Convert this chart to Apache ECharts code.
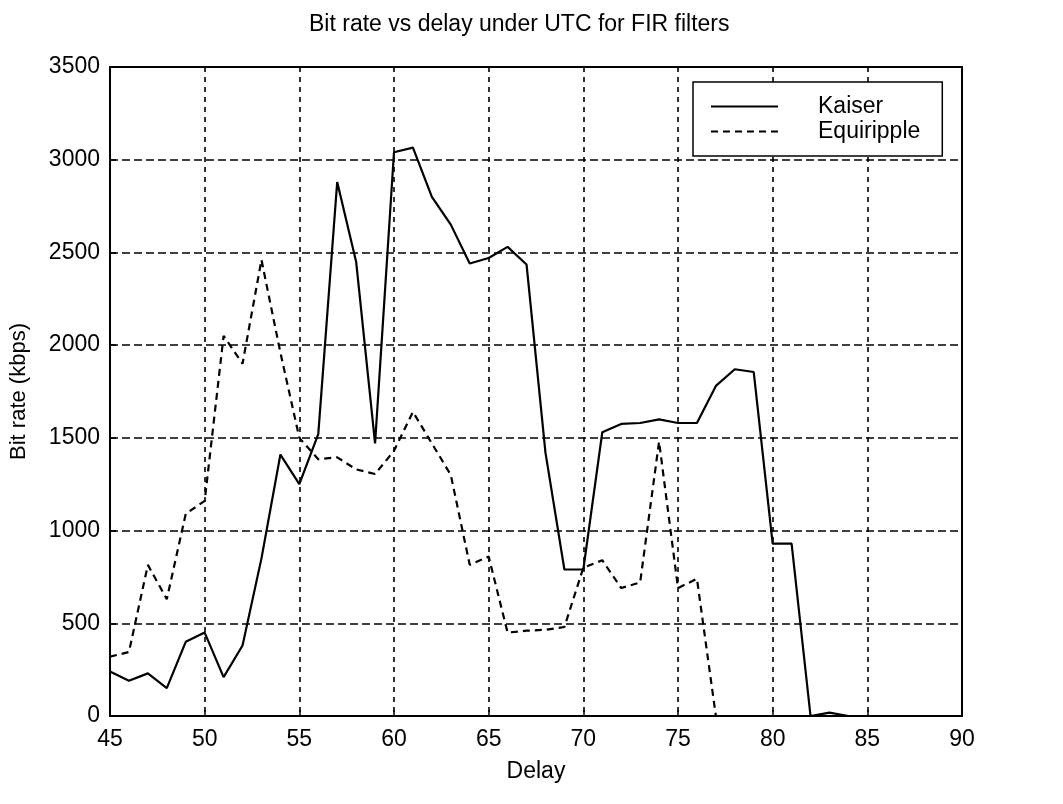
<!DOCTYPE html>
<html>
<head>
<meta charset="utf-8">
<title>Bit rate vs delay under UTC for FIR filters</title>
<script src="https://cdn.jsdelivr.net/npm/echarts@6/dist/echarts.min.js"></script>
<style>
  html, body { margin: 0; padding: 0; background: #fff; }
  #chart { width: 1063px; height: 804px; }
</style>
</head>
<body>
<div id="chart"></div>
<script>
// Delay values (x axis), one point per unit of delay
const delay = [45, 46, 47, 48, 49, 50, 51, 52, 53, 54, 55, 56, 57, 58, 59, 60,
               61, 62, 63, 64, 65, 66, 67, 68, 69, 70, 71, 72, 73, 74, 75,
               76, 77, 78, 79, 80, 81, 82, 83, 84, 85, 86, 87, 88, 89, 90];

// Bit rate (kbps) with the Kaiser-window FIR filter
const kaiser = [240, 190, 230, 150, 400, 450, 210, 380, 850, 1410, 1250, 1520, 2880, 2450, 1470, 3040,
                3065, 2800, 2650, 2440, 2470, 2530, 2435, 1420, 790, 790, 1530, 1575, 1580, 1600, 1580,
                1580, 1780, 1870, 1855, 930, 930, 0, 18, 0, 0, 0, 0, 0, 0, 0];

// Bit rate (kbps) with the equiripple FIR filter
const equiripple = [320, 345, 815, 630, 1090, 1160, 2050, 1900, 2460, 1960, 1500, 1385, 1395, 1330, 1305, 1430,
                    1640, 1470, 1300, 815, 860, 450, 460, 465, 480, 800, 840, 690, 720, 1480, 690,
                    740, 0, 0, 0, 0, 0, 0, 0, 0, 0, 0, 0, 0, 0, 0];

// Axis ranges and tick spacing
const xRange = { min: 45, max: 90, step: 5 };
const yRange = { min: 0, max: 3500, step: 500 };

const FONT = '"Liberation Sans", Arial, Helvetica, sans-serif';

const pairs = (xs, ys) => xs.map((x, i) => [x, ys[i]]);

const chart = echarts.init(document.getElementById('chart'), null, { renderer: 'canvas' });

chart.setOption({
  backgroundColor: '#fff',
  animation: false,
  textStyle: { fontFamily: FONT, color: '#000' },
  title: {
    text: 'Bit rate vs delay under UTC for FIR filters',
    left: 304,
    top: 8,
    textStyle: { fontFamily: FONT, fontSize: 23, fontWeight: 'normal', color: '#000' }
  },
  legend: {
    orient: 'vertical',
    left: 693,
    top: 82,
    padding: [12, 22, 12, 17],
    itemWidth: 67,
    itemHeight: 14,
    itemGap: 0,
    backgroundColor: '#fff',
    borderColor: '#000',
    borderWidth: 1.5,
    borderRadius: 0,
    selectedMode: false,
    itemStyle: { opacity: 0 },
    textStyle: { fontFamily: FONT, fontSize: 23, lineHeight: 25, color: '#000', padding: [0, 0, 0, 35] },
    data: ['Kaiser', 'Equiripple']
  },
  grid: {
    left: 110,
    top: 67,
    right: 101,
    bottom: 88,
    show: true,
    backgroundColor: '#fff',
    borderColor: '#000',
    borderWidth: 2
  },
  xAxis: {
    type: 'value',
    min: xRange.min,
    max: xRange.max,
    interval: xRange.step,
    name: 'Delay',
    nameLocation: 'middle',
    nameGap: 44,
    nameTextStyle: { fontFamily: FONT, fontSize: 23, color: '#000' },
    axisLine: { lineStyle: { color: '#000', width: 2 } },
    axisTick: { inside: true, length: 6, lineStyle: { color: '#000', width: 1.5 } },
    axisLabel: { fontFamily: FONT, fontSize: 23, color: '#000', margin: 12, formatter: v => String(v) },
    splitLine: { show: true, lineStyle: { color: '#000', width: 1.6, type: [5, 5] } }
  },
  yAxis: {
    type: 'value',
    min: yRange.min,
    max: yRange.max,
    interval: yRange.step,
    name: 'Bit rate (kbps)',
    nameLocation: 'middle',
    nameGap: 80,
    nameTextStyle: { fontFamily: FONT, fontSize: 22, color: '#000' },
    axisLine: { show: true, lineStyle: { color: '#000', width: 2 } },
    axisTick: { show: true, inside: true, length: 6, lineStyle: { color: '#000', width: 1.5 } },
    axisLabel: { fontFamily: FONT, fontSize: 23, color: '#000', margin: 10, formatter: v => String(v) },
    splitLine: { show: true, lineStyle: { color: '#000', width: 1.6, type: [8, 4] } }
  },
  series: [
    {
      name: 'Kaiser',
      type: 'line',
      data: pairs(delay, kaiser),
      symbol: 'none',
      z: 4,
      lineStyle: { color: '#000', width: 2.2, type: 'solid' },
      itemStyle: { color: '#000' }
    },
    {
      name: 'Equiripple',
      type: 'line',
      data: pairs(delay, equiripple),
      symbol: 'none',
      z: 3,
      lineStyle: { color: '#000', width: 2.2, type: [7, 5] },
      itemStyle: { color: '#000' }
    }
  ]
});
</script>
</body>
</html>
